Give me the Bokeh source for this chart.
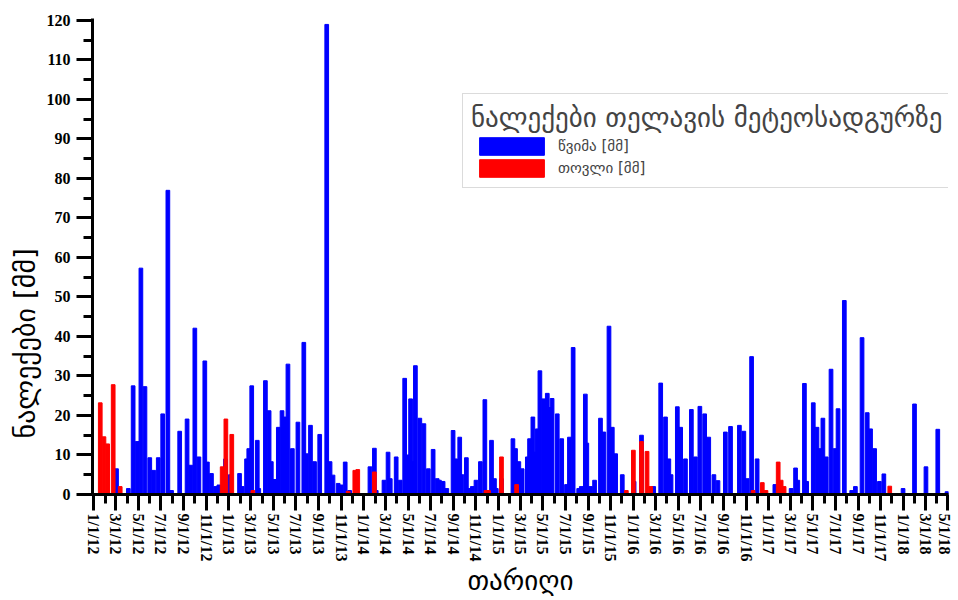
import pandas as pd
from bokeh.plotting import figure
from bokeh.models import (Range1d, FixedTicker, CustomJSTickFormatter, Legend,
                          LegendItem, Title)
from bokeh.embed import file_html
from bokeh.resources import INLINE

# ---- data ----
rain_dates = [
    "2012-03-03", "2012-04-04", "2012-04-17", "2012-04-28", "2012-05-08", "2012-05-19",
    "2012-06-01", "2012-06-12", "2012-06-24", "2012-07-06", "2012-07-20", "2012-07-30",
    "2012-08-21", "2012-09-10", "2012-09-20", "2012-10-01", "2012-10-12", "2012-10-28",
    "2012-11-04", "2012-11-15", "2012-11-26", "2012-12-05", "2012-12-23", "2013-01-05",
    "2013-01-30", "2013-02-06", "2013-02-18", "2013-02-24", "2013-03-04", "2013-03-19",
    "2013-03-23", "2013-04-10", "2013-04-20", "2013-04-26", "2013-05-05", "2013-05-15",
    "2013-05-25", "2013-06-01", "2013-06-10", "2013-06-22", "2013-07-07", "2013-07-23",
    "2013-07-30", "2013-08-10", "2013-08-21", "2013-09-04", "2013-09-23", "2013-10-02",
    "2013-10-10", "2013-10-24", "2013-11-01", "2013-11-12", "2013-11-24",
    "2014-01-18", "2014-01-30", "2014-02-04", "2014-02-25", "2014-03-08", "2014-03-14",
    "2014-03-30", "2014-04-10", "2014-04-22", "2014-05-01", "2014-05-08", "2014-05-14",
    "2014-05-21", "2014-06-02", "2014-06-13", "2014-06-25", "2014-07-08", "2014-07-19",
    "2014-07-25", "2014-08-04", "2014-08-14", "2014-08-31", "2014-09-07", "2014-09-18",
    "2014-09-24", "2014-10-06", "2014-10-13", "2014-10-22", "2014-11-01", "2014-11-13",
    "2014-11-25", "2014-12-13", "2014-12-21", "2014-12-26", "2015-01-09", "2015-02-09",
    "2015-02-16", "2015-02-25", "2015-03-06", "2015-03-20", "2015-03-26", "2015-04-04",
    "2015-04-09", "2015-04-16", "2015-04-23", "2015-05-03", "2015-05-13", "2015-05-19",
    "2015-05-26", "2015-06-09", "2015-06-21", "2015-07-04", "2015-07-12", "2015-07-22",
    "2015-08-06", "2015-08-13", "2015-08-24", "2015-08-28", "2015-09-07", "2015-09-18",
    "2015-10-04", "2015-10-13", "2015-10-27", "2015-11-05", "2015-11-14", "2015-12-02",
    "2016-01-03", "2016-01-23", "2016-02-25", "2016-03-15", "2016-03-28", "2016-04-06",
    "2016-04-12", "2016-04-29", "2016-05-08", "2016-05-21", "2016-06-06", "2016-06-17",
    "2016-06-29", "2016-07-12", "2016-07-23", "2016-08-06", "2016-08-17", "2016-09-06",
    "2016-09-20", "2016-10-14", "2016-10-26", "2016-11-04", "2016-11-16", "2016-12-01",
    "2017-01-18", "2017-03-03", "2017-03-15", "2017-03-21", "2017-04-08", "2017-04-14",
    "2017-05-02", "2017-05-12", "2017-05-20", "2017-05-28", "2017-06-06", "2017-06-19",
    "2017-06-30", "2017-07-08", "2017-07-25", "2017-08-14", "2017-08-24", "2017-09-11",
    "2017-09-25", "2017-10-04", "2017-10-15", "2017-10-28", "2017-11-09", "2017-12-31",
    "2018-01-31", "2018-03-03", "2018-04-04", "2018-04-29",
]
rain_mm = [
    6.5, 1.5, 27.5, 13.4, 57.3, 27.3,
    9.3, 6.1, 9.3, 20.4, 77.0, 1.0,
    16.0, 19.1, 7.4, 42.1, 9.5, 33.8,
    8.2, 5.3, 2.0, 2.4, 9.0, 5.0,
    5.3, 2.0, 9.0, 11.6, 27.5, 13.7,
    1.5, 28.8, 21.2, 8.3, 3.8, 17.0,
    21.2, 19.6, 33.0, 11.6, 18.3, 38.5,
    10.3, 17.5, 8.3, 15.2, 119.0, 8.3,
    4.9, 2.8, 2.4, 8.2, 1.0,
    7.0, 11.7, 1.0, 3.6, 10.7, 4.0,
    9.5, 3.6, 29.4, 10.0, 24.2, 8.3,
    32.6, 19.3, 17.9, 6.5, 11.4, 4.0,
    3.6, 3.3, 1.5, 16.2, 9.0, 14.5,
    5.0, 9.3, 1.5, 2.0, 3.6, 8.3,
    24.0, 13.7, 4.0, 1.5, 4.0, 14.1,
    11.6, 8.3, 6.5, 9.5, 14.1, 19.6,
    10.7, 16.6, 31.3, 24.2, 25.6, 22.0,
    24.3, 20.4, 14.1, 2.5, 14.5, 37.2,
    1.5, 2.0, 25.4, 13.0, 2.0, 3.6,
    19.3, 15.8, 42.6, 17.0, 10.3, 5.0,
    3.3, 15.0, 2.0, 28.2, 19.6, 9.0,
    5.0, 22.2, 17.0, 9.0, 21.5, 9.5,
    22.3, 20.4, 14.5, 5.0, 3.5, 15.8,
    17.2, 17.5, 16.0, 4.0, 34.9, 9.0,
    2.5, 1.5, 6.7, 3.6, 28.1, 3.3,
    23.2, 17.0, 11.6, 19.3, 9.5, 31.7,
    11.6, 21.7, 49.1, 1.0, 2.0, 39.7,
    20.7, 16.6, 11.6, 3.3, 5.2, 1.5,
    22.9, 7.0, 16.5, 0.7,
]
snow_dates = [
    "2012-01-19", "2012-01-29", "2012-02-08", "2012-02-23", "2012-03-13",
    "2012-12-14", "2012-12-24", "2013-01-09", "2013-03-07",
    "2013-11-20", "2013-12-08", "2013-12-16", "2014-01-30",
    "2014-11-28", "2014-12-05", "2015-01-09", "2015-02-19",
    "2015-12-13", "2016-01-01", "2016-01-23", "2016-02-07", "2016-02-17",
    "2016-11-20", "2016-12-15", "2016-12-25", "2017-01-27", "2017-02-04", "2017-02-12",
    "2017-11-25",
]
snow_mm = [
    23.2, 14.6, 12.8, 27.8, 2.0,
    7.0, 19.1, 15.2, 1.0,
    0.8, 6.1, 6.3, 5.7,
    1.0, 1.0, 9.5, 2.5,
    1.0, 11.2, 13.4, 10.9, 2.0,
    1.0, 3.0, 1.0, 8.2, 3.6, 2.0,
    2.1,
]
y_ticks = [0, 10, 20, 30, 40, 50, 60, 70, 80, 90, 100, 110, 120]
legend_title = "ნალექები თელავის მეტეოსადგურზე"
rain_label = "წვიმა [მმ]"
snow_label = "თოვლი [მმ]"
x_title = "თარიღი"
y_title = "ნალექები [მმ]"

rain_x = pd.to_datetime(rain_dates)
snow_x = pd.to_datetime(snow_dates)

DAY = 86400000
W, H = 952, 598
BL, BR, BT, BB = 92, 4, 18, 102
p = figure(width=W, height=H, x_axis_type="datetime",
           output_backend="svg", toolbar_location=None,
           x_range=Range1d(pd.Timestamp("2011-12-29"), pd.Timestamp("2018-05-03")),
           y_range=Range1d(0, 120.5),
           min_border_left=BL, min_border_right=BR, min_border_top=BT,
           min_border_bottom=BB)
p.xgrid.visible = False
p.ygrid.visible = False
p.outline_line_color = None
p.background_fill_color = "white"

r_rain = p.vbar(x=rain_x, top=rain_mm, bottom=0, width=10 * DAY,
                fill_color="#0000FF", line_color="#0000FF", line_width=1)
r_snow = p.vbar(x=snow_x, top=snow_mm, bottom=0, width=10 * DAY,
                fill_color="#FF0000", line_color="#FF0000", line_width=1)

# x axis ticks
months = pd.date_range("2012-01-01", "2018-05-01", freq="MS")
major = [m.timestamp() * 1000 for i, m in enumerate(months) if i % 2 == 0]
minor = [m.timestamp() * 1000 for i, m in enumerate(months) if i % 2 == 1]
p.xaxis.ticker = FixedTicker(ticks=major, minor_ticks=minor)
p.xaxis.formatter = CustomJSTickFormatter(code="""
const d = new Date(tick);
return (d.getUTCMonth()+1) + '/' + d.getUTCDate() + '/' + String(d.getUTCFullYear()).slice(2);
""")
p.xaxis.major_label_orientation = "vertical"

p.yaxis.ticker = FixedTicker(ticks=y_ticks, minor_ticks=[v + 5 for v in y_ticks[:-1]])

for ax in (p.xaxis[0], p.yaxis[0]):
    ax.axis_line_width = 3
    ax.axis_line_color = "black"
    ax.major_tick_line_width = 3
    ax.minor_tick_line_width = 3
    ax.major_tick_out = 16
    ax.major_tick_in = 0
    ax.minor_tick_out = 9
    ax.minor_tick_in = 0
    ax.major_label_text_font = "Liberation Serif"
    ax.major_label_text_font_style = "bold"
    ax.major_label_text_font_size = "16px"
    ax.major_label_text_color = "black"
p.xaxis.major_label_standoff = 3
p.yaxis.major_label_standoff = 6

# x title as axis label (centred under the frame)
p.xaxis.axis_label = x_title
p.xaxis.axis_label_text_font = "DejaVu Sans"
p.xaxis.axis_label_text_font_style = "normal"
p.xaxis.axis_label_text_font_size = "27px"
p.xaxis.axis_label_text_color = "black"
p.xaxis.axis_label_standoff = 0

# y title: placed lower than centre, as in the reference
ytitle = Title(text=y_title, align="left", offset=56, text_font="DejaVu Sans",
               text_font_size="28px", text_font_style="normal", text_color="black",
               standoff=4)
p.add_layout(ytitle, "left")

legend = Legend(items=[LegendItem(label=rain_label, renderers=[r_rain]),
                       LegendItem(label=snow_label, renderers=[r_snow])],
                title=legend_title, location=(462 - BL, 306))
legend.title_text_font = "DejaVu Sans"
legend.title_text_font_style = "normal"
legend.title_text_font_size = "27px"
legend.title_standoff = 2
legend.label_text_font = "DejaVu Sans"
legend.label_text_font_size = "15px"
legend.glyph_width = 81
legend.glyph_height = 22
legend.label_height = 22
legend.label_standoff = 6
legend.spacing = 0
legend.padding = 8
legend.margin = 0
legend.border_line_color = "#b8b8b8"
legend.border_line_width = 1.5
p.add_layout(legend)

open("out.html", "w").write(file_html(p, INLINE))
